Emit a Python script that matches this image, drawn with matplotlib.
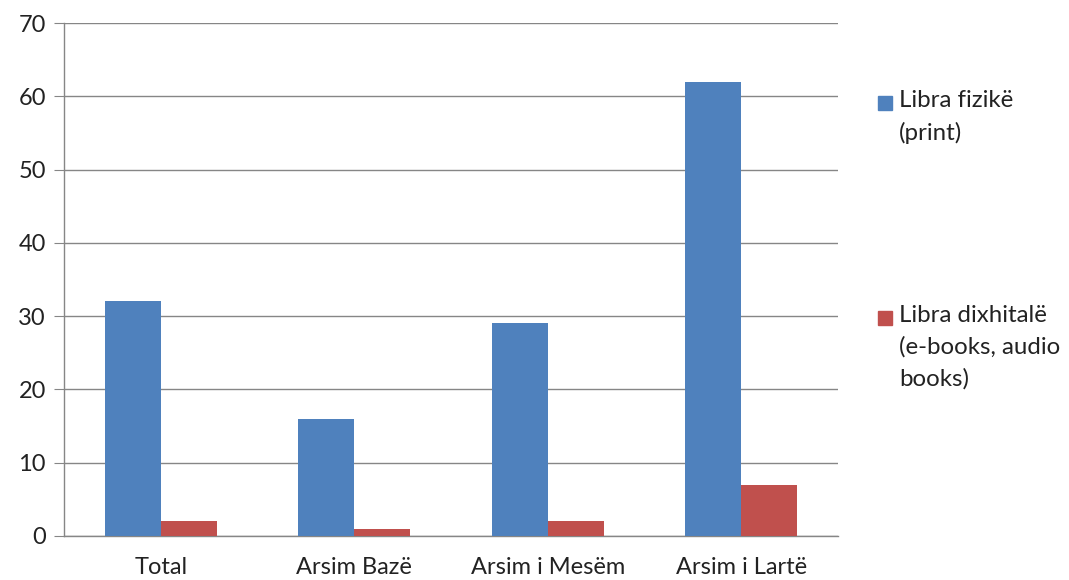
import numpy as np
import matplotlib
matplotlib.use("Agg")
import matplotlib.pyplot as plt
from matplotlib.patches import Rectangle

categories = ["Total", "Arsim Bazë", "Arsim i Mesëm", "Arsim i Lartë"]
print_books = [32, 16, 29, 62]
digital_books = [2, 1, 2, 7]
series_labels = ["Libra fizikë\n(print)", "Libra dixhitalë\n(e-books, audio\nbooks)"]

blue = "#4F81BD"
red = "#C0504D"
grid_col = "#868686"

plt.rcParams['font.family'] = ['Lato', 'DejaVu Sans']

fig = plt.figure(figsize=(10.69, 5.8), dpi=100)
ax = fig.add_axes([64 / 1069, 44 / 580, (838 - 64) / 1069, (536 - 23) / 580])

x = np.arange(len(categories))
w = 0.29
ax.bar(x - w / 2, print_books, width=w, color=blue, zorder=3)
ax.bar(x + w / 2, digital_books, width=w, color=red, zorder=3)

ax.set_xlim(-0.5, len(categories) - 0.5)
ax.set_ylim(0, 70)
ax.set_yticks(range(0, 71, 10))
ax.yaxis.grid(True, color=grid_col, linewidth=1, zorder=0)
ax.set_axisbelow(True)

ax.set_xticks(x)
ax.set_xticklabels(categories, fontsize=17, color="#222222")
ax.tick_params(axis='x', length=0, pad=15)
ax.tick_params(axis='y', labelsize=17, labelcolor="#222222", length=7,
               color=grid_col, pad=6)

for s in ['top', 'right']:
    ax.spines[s].set_visible(False)
for s in ['left', 'bottom']:
    ax.spines[s].set_color(grid_col)
    ax.spines[s].set_linewidth(1)

# legend drawn at the right, handles aligned with first text line
leg_y = [103, 318]
for lab, col, yy in zip(series_labels, [blue, red], leg_y):
    fig.patches.append(Rectangle((878 / 1069, (580 - yy - 7) / 580), 14 / 1069, 14 / 580,
                                 transform=fig.transFigure, color=col))
    fig.text(899 / 1069, (580 - yy + 13) / 580, lab, fontsize=17.3, color="#222222",
             va='top', ha='left', linespacing=1.6)

fig.savefig("out.png", dpi=100)
